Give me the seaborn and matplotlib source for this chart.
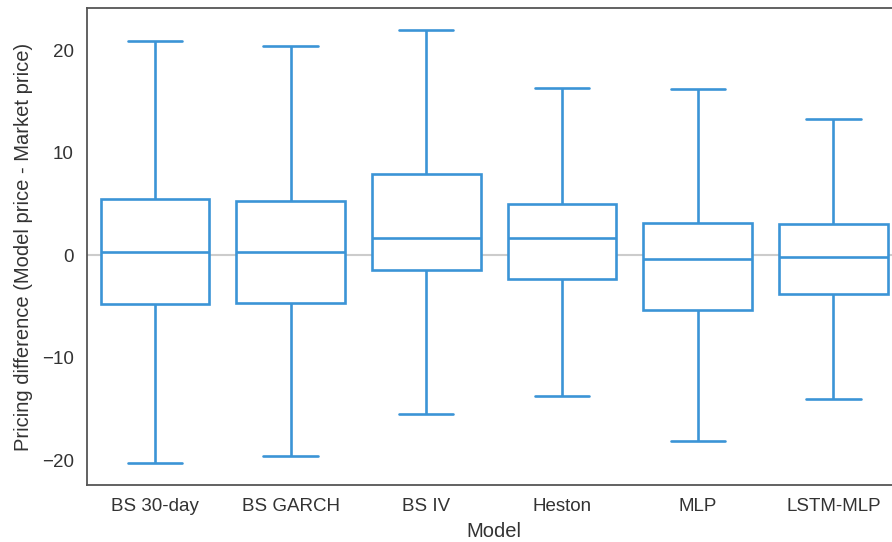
import numpy as np
import pandas as pd
import matplotlib
matplotlib.use("Agg")
import matplotlib.pyplot as plt
import seaborn as sns

models = ["BS 30-day", "BS GARCH", "BS IV", "Heston", "MLP", "LSTM-MLP"]
whisker_low = [-20.2, -19.6, -15.5, -13.7, -18.1, -14.0]
q1 = [-4.7, -4.6, -1.4, -2.35, -5.3, -3.8]
median = [0.35, 0.35, 1.65, 1.65, -0.4, -0.2]
q3 = [5.45, 5.3, 7.9, 5.0, 3.2, 3.05]
whisker_high = [20.9, 20.4, 22.0, 16.3, 16.2, 13.3]

rows = []
for m, a, b, c, d, e in zip(models, whisker_low, q1, median, q3, whisker_high):
    for v in (a, b, c, d, e):
        rows.append({"Model": m, "diff": v})
df = pd.DataFrame(rows)

sns.set_theme(style="white")
plt.rcParams["font.family"] = ["Liberation Sans", "DejaVu Sans"]

fig = plt.figure(figsize=(8.92, 5.42), dpi=100)
ax = fig.add_axes([0.0975, 0.105, 0.913, 0.880])

color = "#3b94d6"
ax.axhline(0, color="#cccccc", lw=1.5, zorder=0)
sns.boxplot(data=df, x="Model", y="diff", ax=ax, whis=np.inf, width=0.8,
            color="white", linewidth=1.9, showfliers=False,
            linecolor=color, saturation=1)

ax.set_ylim(-22.4, 24.1)
ax.set_xlim(-0.5, 5.5)
ax.set_yticks([-20, -10, 0, 10, 20])
ax.set_xlabel("Model", fontsize=14.5, color="#333333", labelpad=5)
ax.set_ylabel("Pricing difference (Model price - Market price)", fontsize=14.5,
              color="#333333", labelpad=6)
ax.tick_params(axis="both", labelsize=13.5, colors="#333333")
for s in ax.spines.values():
    s.set_color("#555555")
    s.set_linewidth(1.3)

fig.savefig("out.png", dpi=100)
